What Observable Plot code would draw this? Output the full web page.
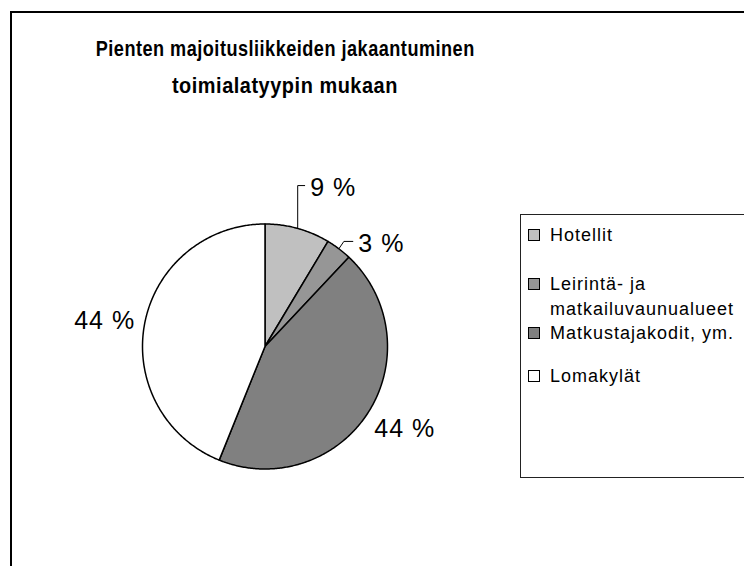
<!DOCTYPE html>
<html><head><meta charset="utf-8">
<script src="https://cdn.jsdelivr.net/npm/d3@7"></script>
<script src="https://cdn.jsdelivr.net/npm/@observablehq/plot@0.6"></script>
<style>
html,body{margin:0;padding:0;background:#fff;overflow:hidden;width:744px;height:566px}
#wrap{position:relative;width:744px;height:566px;overflow:hidden;font-family:"Liberation Sans",Arial,sans-serif;color:#000}
#frame{position:absolute;left:10px;top:11px;width:800px;height:650px;border:2px solid #000;box-sizing:border-box}
#title{position:absolute;left:11px;width:548px;top:30px;text-align:center;font-weight:bold;font-size:22px;line-height:37px;letter-spacing:0.6px}
#title .ln{display:block;white-space:nowrap}
#title .ln span{display:inline-block;transform-origin:50% 50%}
#chart{position:absolute;left:0;top:0}
#chart svg text{letter-spacing:1px}
#legend{position:absolute;left:520px;top:214px;width:300px;height:264px;border:1px solid #222;box-sizing:border-box;background:#fff}
.item{position:absolute;left:7px;font-size:18px;line-height:25px;letter-spacing:1px;white-space:nowrap}
.sw{position:absolute;left:0;top:6px;width:10px;height:10px;border:1.5px solid #000}
.txt{position:absolute;left:22px;top:0}
</style></head>
<body><div id="wrap"><div id="frame"></div><div id="title"></div><div id="chart"></div><div id="legend"></div></div>
<script>
// ---- data ----
const categories = ["Hotellit", "Leirintä- ja matkailuvaunualueet", "Matkustajakodit, ym.", "Lomakylät"];
const legendLines = [["Hotellit"], ["Leirintä- ja", "matkailuvaunualueet"], ["Matkustajakodit, ym."], ["Lomakylät"]];
const shares = [8.6, 3.4, 44.1, 43.9];
const fills = ["#c0c0c0", "#969696", "#808080", "#ffffff"];
const titleLines = ["Pienten majoitusliikkeiden jakaantuminen", "toimialatyypin mukaan"];

const data = categories.map((c, i) => ({category: c, value: shares[i], fill: fills[i], label: Math.round(shares[i]) + " %"}));

// title (condensed like the original rendering)
const titleWidths = [379, 226];
const titleEl = document.getElementById("title");
titleLines.forEach((t, i) => {
  const ln = document.createElement("div");
  ln.className = "ln";
  const sp = document.createElement("span");
  sp.textContent = t;
  ln.appendChild(sp);
  titleEl.appendChild(ln);
  const w = sp.getBoundingClientRect().width;
  sp.style.transform = `scaleX(${titleWidths[i] / w})`;
});

// pie geometry from d3.pie (12 o'clock start, clockwise)
const arcs = d3.pie().sort(null).value(d => d.value)(data);
const pts = [];
arcs.forEach((p, i) => {
  pts.push({k: i, x: 0, y: 0});
  const n = Math.max(2, Math.ceil((p.endAngle - p.startAngle) / 0.01));
  for (let j = 0; j <= n; j++) {
    const a = p.startAngle + (p.endAngle - p.startAngle) * j / n;
    pts.push({k: i, x: Math.sin(a), y: Math.cos(a)});
  }
});

// labels
const labelRadius = 1.325, labelTurn = -2 * Math.PI / 180;
const leaderLayout = {0: {lift: 0.35, shift: 0, run: 0.057}, 1: {lift: 0.06, shift: 0.041, run: 0.073}};
const labelPts = [], leaderPts = [];
arcs.forEach((p, i) => {
  const mid = (p.startAngle + p.endAngle) / 2;
  const L = leaderLayout[i];
  if (L) {
    const ex = Math.sin(mid), ey = Math.cos(mid);
    const bx = ex + L.shift, by = ey + L.lift;
    const cx = bx + L.run;
    leaderPts.push({k: i, x: ex, y: ey}, {k: i, x: bx, y: by}, {k: i, x: cx, y: by});
    labelPts.push({x: cx + 0.045, y: by - 0.02, text: p.data.label, anchor: "start"});
  } else {
    const a = mid + labelTurn;
    labelPts.push({x: labelRadius * Math.sin(a), y: labelRadius * Math.cos(a), text: p.data.label, anchor: "middle"});
  }
});

const plot = Plot.plot({
  width: 744, height: 566,
  marginLeft: 142, marginRight: 357, marginTop: 223.5, marginBottom: 97.5,
  x: {domain: [-1, 1], axis: null},
  y: {domain: [-1, 1], axis: null},
  style: {fontFamily: '"Liberation Sans", Arial, sans-serif', background: "transparent", overflow: "visible"},
  marks: [
    Plot.line(pts, {x: "x", y: "y", z: "k", fill: d => fills[d.k], stroke: "#000", strokeWidth: 1.5, curve: "linear-closed", strokeLinejoin: "round"}),
    Plot.line(leaderPts, {x: "x", y: "y", z: "k", stroke: "#000", strokeWidth: 1}),
    Plot.text(labelPts.filter(d => d.anchor === "start"), {x: "x", y: "y", text: "text", fontSize: 25, textAnchor: "start", fill: "#000"}),
    Plot.text(labelPts.filter(d => d.anchor === "middle"), {x: "x", y: "y", text: "text", fontSize: 25, textAnchor: "middle", fill: "#000"})
  ]
});
document.getElementById("chart").appendChild(plot);

// legend
const itemTops = [8, 57, 106, 149];
const legend = document.getElementById("legend");
data.forEach((d, i) => {
  const it = document.createElement("div");
  it.className = "item";
  it.style.top = itemTops[i] + "px";
  it.innerHTML = `<div class="sw" style="background:${d.fill}"></div><div class="txt">${legendLines[i].join("<br>")}</div>`;
  legend.appendChild(it);
});
</script></body></html>
